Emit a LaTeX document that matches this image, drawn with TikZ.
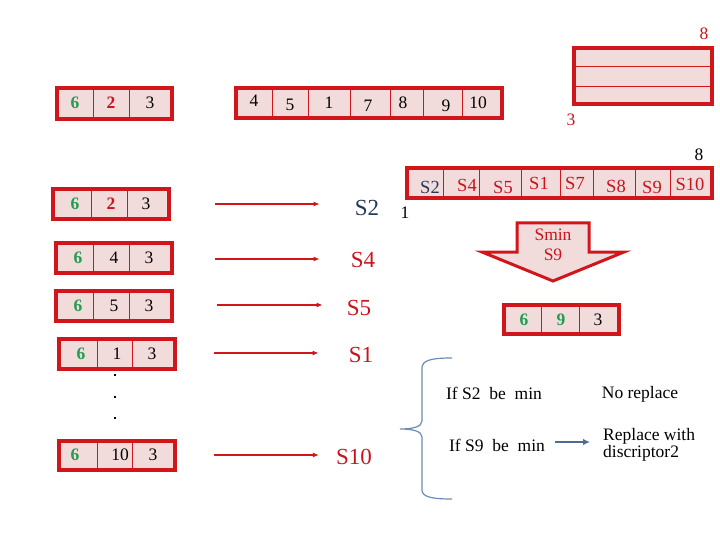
\documentclass[tikz,border=0pt]{standalone}
\usepackage{fontspec}
\setmainfont{Liberation Serif}
\usetikzlibrary{arrows.meta,calc}
\definecolor{boxred}{HTML}{D0161B}
\definecolor{boxpink}{HTML}{F2DCDB}
\definecolor{greentxt}{HTML}{1E9E50}
\definecolor{redtxt}{HTML}{C8141C}
\definecolor{navytxt}{HTML}{243A5E}
\definecolor{bracecol}{HTML}{6E8CB0}
\definecolor{bluearr}{HTML}{4A6D94}
\newcommand\fs[1]{\fontsize{#1}{#1}\selectfont}
\newcommand\cellrow[6]{%
  \pgfmathsetmacro\cw{#4-#2}\pgfmathsetmacro\ch{#5-#3}%
  \node[cellbox, minimum width=\cw pt, minimum height=\ch pt, anchor=north west] (#1) at (#2,#3) {};
  \foreach \dx in {#6} {\draw[divider] (\dx,#3) -- (\dx,#5);}
  \draw[outer] (#1.north west) rectangle (#1.south east);
}
\tikzset{
  cellbox/.style={fill=boxpink, draw=none, inner sep=0pt, outer sep=0pt},
  outer/.style={draw=boxred, line width=3.4pt},
  divider/.style={draw=boxred, line width=1pt},
  num/.style={font=\fs{17.5}, inner sep=0pt},
  gnum/.style={num, font=\fs{17.5}\bfseries, text=greentxt},
  rnum/.style={num, font=\fs{17.5}\bfseries, text=redtxt},
  slab/.style={font=\fs{18.5}, inner sep=0pt, text=redtxt},
  biglab/.style={font=\fs{23}, inner sep=0pt, text=redtxt},
  redarrow/.style={draw=boxred, line width=1.7pt, -{Latex[length=6pt,width=5pt]}},
  note/.style={font=\fs{17.5}, inner sep=0pt},
  bluearrow/.style={draw=bluearr, line width=1.7pt, -{Latex[length=7pt,width=6.5pt]}},
}
\begin{document}
\begin{tikzpicture}[x=1pt,y=-1pt]
\useasboundingbox (0,0) rectangle (720,540);
% top-left box
\cellrow{t1}{57}{88}{172}{119}{93,129}
\node[gnum] (t1a) at (75,103) {6};
\node[rnum] (t1b) at (111,103) {2};
\node[num] (t1c) at (150,103) {3};
% top long box
\cellrow{t2}{236}{88}{502}{118}{272,308,350,390,423,462}
\node[num] (t2a) at (254,101) {4};
\node[num] (t2b) at (290,105) {5};
\node[num] (t2c) at (329,103) {1};
\node[num] (t2d) at (368,106) {7};
\node[num] (t2e) at (403,103) {8};
\node[num] (t2f) at (446,106) {9};
\node[num] (t2g) at (478,103) {10};
% top right box
\node[cellbox, minimum width=138pt, minimum height=56pt, anchor=north west] (t3) at (574,48) {};
\draw[divider] (574,67) -- (712,67);
\draw[divider] (574,87) -- (712,87);
\draw[outer] (t3.north west) rectangle (t3.south east);
\node[num, text=redtxt] (t3n) at (704,34) {8};
\node[num, text=redtxt] (t3m) at (571,120) {3};
% S row
\cellrow{sr}{407}{168}{712}{198}{443,479,521,560,593,635,670}
\node[slab, text=navytxt] (s2) at (430,187) {S2};
\node[slab] (s4) at (467,185) {S4};
\node[slab] (s5) at (503,187) {S5};
\node[slab] (s1) at (539,183) {S1};
\node[slab] (s7) at (575,183) {S7};
\node[slab] (s8) at (616,186) {S8};
\node[slab] (s9) at (652,187) {S9};
\node[slab] (s10) at (690,184) {S10};
\node[num] (e8) at (699,155) {8};
\node[num] (e1) at (405,213) {1};
% left column
\cellrow{b1}{53}{189}{169}{219}{91,127}
\node[gnum] at (75,204) {6};
\node[rnum] at (111,204) {2};
\node[num] at (146,204) {3};
\cellrow{b2}{56}{243}{172}{273}{93,129}
\node[gnum] at (78,258) {6};
\node[num] at (114,258) {4};
\node[num] at (149,258) {3};
\cellrow{b3}{56}{291}{172}{321}{93,129}
\node[gnum] at (78,306) {6};
\node[num] at (114,306) {5};
\node[num] at (149,306) {3};
\cellrow{b4}{59}{339}{175}{369}{97,132}
\node[gnum] at (81,354) {6};
\node[num] at (117,354) {1};
\node[num] at (152,354) {3};
\foreach \yy in {375,397,418} {\fill (113.7,\yy-1.3) rectangle ++(2.6,2.6);}
\cellrow{b5}{59}{441}{175}{470}{97,132}
\node[gnum] at (75,455) {6};
\node[num] at (120,455) {10};
\node[num] at (153,455) {3};
% arrows and labels
\node[biglab, text=navytxt] (l1) at (367,208) {S2};
\node[biglab] (l2) at (363,260) {S4};
\node[biglab] (l3) at (359,308) {S5};
\node[biglab] (l4) at (361,355) {S1};
\node[biglab] (l5) at (354,457) {S10};
\coordinate (a1) at (215,204); \coordinate (a2) at (215,259); \coordinate (a3) at (217,305);
\coordinate (a4) at (214,353); \coordinate (a5) at (214,455);
\draw[redarrow] (a1) -- ([xshift=-35pt]l1.west |- a1);
\draw[redarrow] (a2) -- ([xshift=-31pt]l2.west |- a2);
\draw[redarrow] (a3) -- ([xshift=-24pt]l3.west |- a3);
\draw[redarrow] (a4) -- ([xshift=-30pt]l4.west |- a4);
\draw[redarrow] (a5) -- ([xshift=-17pt]l5.west |- a5);
% down arrow
\draw[fill=boxpink, draw=boxred, line width=3pt, line join=miter]
  (517,223) -- (589,223) -- (589,252) -- (624,252) -- (553,281) -- (482,252) -- (517,252) -- cycle;
\node[slab, font=\fs{17.5}, align=center] (smin) at (553,245) {Smin\\[2pt]S9};
% result box
\cellrow{rb}{504}{305}{619}{334}{541,579}
\node[gnum] at (524,320) {6};
\node[gnum] at (561,320) {9};
\node[num] at (598,320) {3};
% brace
\draw[bracecol, line width=1.2pt]
  (452,358) .. controls (432,358) and (422,360) .. (422,368) -- (422,421)
  .. controls (422,427) and (412,429) .. (400,429)
  .. controls (412,429) and (422,431) .. (422,437) -- (422,490)
  .. controls (422,497) and (432,499) .. (452,499);
\node[note] (if2) at (494,393) {If S2~~be~~min};
\node[note] (norep) at (640,394) {No replace};
\node[note] (if9) at (497,445) {If S9~~be~~min};
\node[note, anchor=west, align=left] (rep) at (603,445) {Replace with\\[-1pt]discriptor2};
\coordinate (bs) at ([xshift=10pt,yshift=3pt]if9.east);
\draw[bluearrow] (bs) -- ([xshift=-13pt]rep.west |- bs);
\end{tikzpicture}
\end{document}
